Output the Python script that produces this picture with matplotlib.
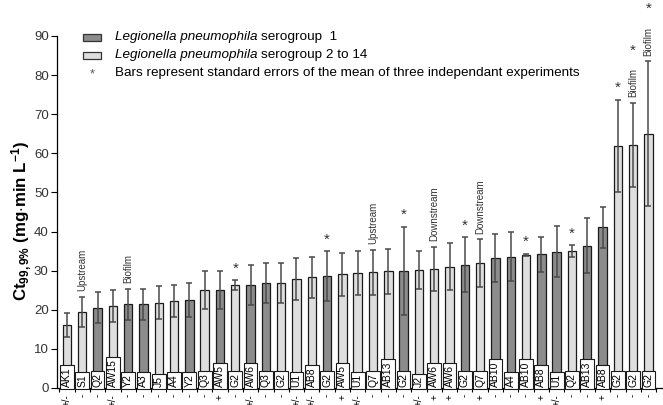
import matplotlib
matplotlib.use("Agg")
import matplotlib.pyplot as plt
from matplotlib.patches import Rectangle
from matplotlib.transforms import blended_transform_factory

plt.rcParams['font.family'] = ['Liberation Sans', 'DejaVu Sans']
plt.rcParams['mathtext.fontset'] = 'custom'
plt.rcParams['mathtext.rm'] = 'Liberation Sans'
plt.rcParams['mathtext.it'] = 'Liberation Sans:italic'
plt.rcParams['mathtext.bf'] = 'Liberation Sans:bold'

# Strain codes, serogroup class (1 = serogroup 1, 0 = serogroups 2-14)
strains = ['AK1', 'S1', 'Q2', 'AW15', 'Y2', 'A3', 'J5', 'A4', 'Y2', 'Q3',
           'AW5', 'G2', 'AW6', 'Q3', 'G2', 'U1', 'AB8', 'G2', 'AW5', 'U1',
           'Q7', 'AB13', 'G2', 'J2', 'AW6', 'AW6', 'G2', 'Q7', 'AB10', 'A4',
           'AB10', 'AB8', 'U1', 'Q2', 'AB13', 'AB8', 'G2', 'G2', 'G2']
serogroup1 = [0, 0, 1, 0, 1, 1, 0, 0, 1, 0,
              1, 0, 1, 1, 0, 0, 0, 1, 0, 0,
              0, 0, 1, 0, 0, 0, 1, 0, 1, 1,
              0, 1, 1, 0, 1, 1, 0, 0, 0]
ct_mean = [16.1, 19.5, 20.5, 21.0, 21.4, 21.4, 21.8, 22.2, 22.5, 25.1,
           25.1, 26.3, 26.3, 26.9, 26.9, 27.9, 28.3, 28.6, 29.1, 29.5,
           29.6, 29.8, 29.9, 30.2, 30.4, 31.0, 31.5, 31.9, 33.2, 33.6,
           34.0, 34.2, 34.9, 35.0, 36.4, 41.1, 61.9, 62.1, 65.0]
ct_sem = [3.0, 3.8, 4.0, 4.1, 4.0, 4.0, 4.2, 4.1, 4.3, 4.8,
          4.8, 1.2, 5.1, 5.1, 5.1, 5.3, 5.3, 6.4, 5.5, 5.6,
          5.7, 5.7, 11.3, 4.8, 5.7, 6.0, 7.0, 6.1, 6.2, 6.3,
          0.3, 4.5, 6.6, 1.5, 7.0, 5.3, 11.8, 10.7, 18.5]
amoeba = ['+/-', '-', '-', '+/-', '-', '-', '-', '-', '-', '-',
          '+', '-', '+/-', '-', '-', '+/-', '+/-', '-', '+', '+/-',
          '-', '-', '-', '+/-', '+', '+', '-', '+', '-', '-',
          '-', '+', '+/-', '-', '-', '+', '-', '-', '-']
significant = [11, 17, 22, 26, 30, 33, 36, 37, 38]
notes = {1: 'Upstream', 4: 'Biofilm', 20: 'Upstream', 24: 'Downstream',
         27: 'Downstream', 37: 'Biofilm', 38: 'Biofilm'}

DARK = '#8c8c8c'
LIGHT = '#dedede'

W, H = 663, 405
fig = plt.figure(figsize=(W / 100, H / 100), dpi=100)
ax = fig.add_axes([57 / W, 17 / H, (W - 57) / W, 352 / H])

x = list(range(len(strains)))
colors = [DARK if s else LIGHT for s in serogroup1]
ax.bar(x, ct_mean, width=0.55, color=colors, edgecolor='#1a1a1a', linewidth=0.9, zorder=2)
ax.errorbar(x, ct_mean, yerr=ct_sem, fmt='none', ecolor='#4a4a4a', elinewidth=1.1,
            capsize=2.2, capthick=1.1, zorder=3)

ax.set_xlim(-0.65, 38.95)
ax.set_ylim(0, 90)
ax.set_yticks(range(0, 91, 10))
ax.tick_params(axis='y', direction='out', length=4, width=0.8, labelsize=9.5,
               labelcolor='#333333', pad=2)
ax.set_xticks([i - 0.5 for i in range(len(strains) + 1)])
ax.set_xticklabels([])
ax.tick_params(axis='x', direction='out', length=3, width=0.8)
for side in ('top', 'right'):
    ax.spines[side].set_visible(False)
for side in ('left', 'bottom'):
    ax.spines[side].set_linewidth(0.9)

plt.rcParams['mathtext.default'] = 'regular'
ax.set_ylabel(r'$\mathbf{Ct_{99,9\%}}$ $\mathbf{(mg{\cdot}min\ L^{-1})}$', fontsize=12.2)
ax.yaxis.set_label_coords(-0.038, 0.475)

# strain code boxes sitting on the axis
for xi, code in zip(x, strains):
    ax.text(xi, 0.35, code, rotation=90, ha='center', va='bottom', fontsize=7.5,
            zorder=5, bbox=dict(boxstyle='square,pad=0.18', fc='white', ec='#1a1a1a', lw=0.8))

# amoeba status below the axis
trans = blended_transform_factory(ax.transData, ax.transAxes)
for xi, s in zip(x, amoeba):
    ax.text(xi, -0.017, s, rotation=90, ha='center', va='top', fontsize=7,
            transform=trans, clip_on=False)

# sampling-site notes and significance stars
for i, note in notes.items():
    top = ct_mean[i] + ct_sem[i]
    ax.text(i, top + 1.5, note, rotation=90, ha='center', va='bottom', fontsize=7,
            color='#333333')
for i in significant:
    top = ct_mean[i] + ct_sem[i]
    y = top + 1.2 + (10.5 if i in notes else 0)
    ax.text(i, y, '*', ha='center', va='bottom', fontsize=11, color='#333333',
            clip_on=False)


# legend, placed in figure pixels
def fx(px):
    return px / W


def fy(py):
    return 1 - py / H


for top_px, fill in ((34, DARK), (52, LIGHT)):
    ax.add_patch(Rectangle((fx(83), fy(top_px + 7)), 18 / W, 7 / H, transform=fig.transFigure,
                           fc=fill, ec='#333333', lw=0.9, clip_on=False, zorder=10))

LEG_FS = 9.7
for ypx, rest in ((37, 'serogroup  1'), (55, 'serogroup 2 to 14')):
    t = fig.text(fx(115), fy(ypx), 'Legionella pneumophila', fontsize=LEG_FS,
                 style='italic', va='center', ha='left')
    ax.annotate(rest, xy=(1, 0.5), xycoords=t, xytext=(2.5, 0), textcoords='offset points',
                fontsize=LEG_FS, va='center', ha='left', annotation_clip=False)
fig.text(fx(92), fy(74), '*', fontsize=9, va='center', ha='center', color='#555555')
fig.text(fx(115), fy(73), 'Bars represent standard errors of the mean of three independant experiments',
         fontsize=LEG_FS, va='center', ha='left')

fig.savefig('out.png', dpi=100)
